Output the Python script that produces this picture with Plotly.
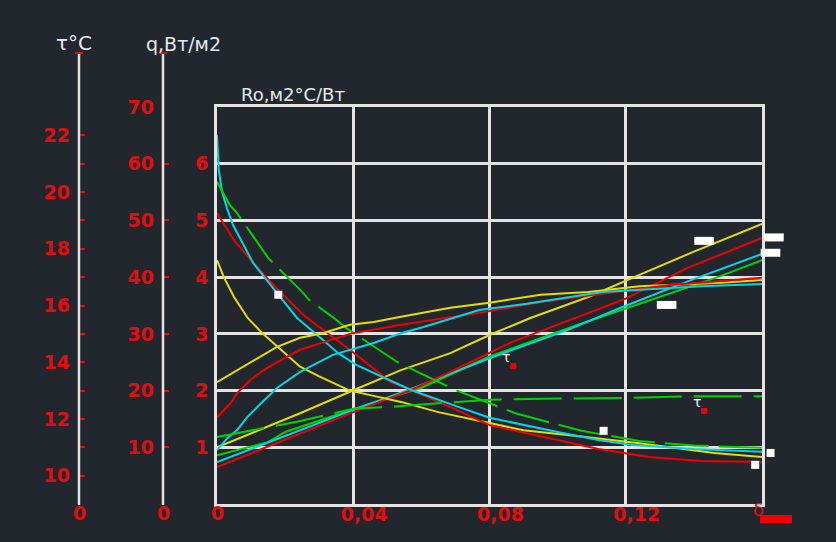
import plotly.graph_objects as go

# ---------------- data ----------------
# heat flux q, W/m2  (falling curves) vs insulation thickness delta, m
q_yellow_x = [0, 0.002, 0.005, 0.009, 0.0135, 0.02, 0.0244, 0.03, 0.039, 0.045, 0.054, 0.065, 0.08, 0.09, 0.107, 0.124, 0.146, 0.16]
q_yellow = [43, 40, 36.5, 32.8, 30, 26.5, 24.2, 22.5, 20, 19.2, 18, 16.2, 14.3, 13, 11.9, 10.7, 9, 8.3]
q_red_x = [0, 0.005, 0.01, 0.017, 0.026, 0.039, 0.051, 0.057, 0.07, 0.08, 0.1, 0.112, 0.127, 0.142, 0.16]
q_red = [51.3, 46.5, 43, 38.3, 33, 27.2, 21.5, 20.1, 16.7, 13.9, 11.3, 9.7, 8.3, 7.6, 7.4]
q_cyan_x = [0, 0.0005, 0.0015, 0.003, 0.0047, 0.0106, 0.018, 0.0235, 0.03, 0.0356, 0.041, 0.05, 0.057, 0.07, 0.08, 0.1, 0.112, 0.122, 0.14, 0.16]
q_cyan = [65, 59, 55, 52, 49.2, 42.5, 36.9, 32.8, 29.5, 26.6, 24.5, 22, 20.1, 17.3, 15.2, 12.7, 11.3, 10.4, 9.7, 9.2]
q_green_x = [0, 0.0038, 0.0059, 0.0132, 0.015, 0.025, 0.027, 0.035, 0.038, 0.053, 0.07, 0.0876, 0.107, 0.124, 0.14, 0.16]
q_green = [56.8, 52.7, 51.3, 44.8, 43.4, 37.4, 36, 32.5, 31, 25, 20.1, 16, 12.9, 11.1, 10.3, 9.9]

# inner surface temperature tau, deg C (rising saturating curves)
t_yellow_x = [0, 0.0077, 0.0176, 0.0244, 0.031, 0.039, 0.046, 0.054, 0.0685, 0.08, 0.095, 0.109, 0.124, 0.148, 0.16]
t_yellow = [13.3, 13.84, 14.54, 14.86, 15.02, 15.32, 15.42, 15.6, 15.92, 16.1, 16.38, 16.48, 16.68, 16.8, 16.9]
t_red_x = [0, 0.004, 0.006, 0.010, 0.0147, 0.0244, 0.039, 0.054, 0.077, 0.095, 0.1106, 0.133, 0.16]
t_red = [12.06, 12.56, 12.92, 13.4, 13.8, 14.44, 15.0, 15.32, 15.74, 16.12, 16.38, 16.72, 16.98]
t_cyan_x = [0, 0.003, 0.006, 0.009, 0.013, 0.0177, 0.0244, 0.034, 0.046, 0.054, 0.0606, 0.077, 0.091, 0.101, 0.113, 0.142, 0.16]
t_cyan = [10.9, 11.32, 11.62, 12.08, 12.56, 13.1, 13.66, 14.26, 14.68, 15.02, 15.24, 15.84, 16.06, 16.26, 16.48, 16.68, 16.76]
t_green_x = [0, 0.014, 0.0235, 0.032, 0.04, 0.05, 0.06, 0.07, 0.08, 0.1, 0.12, 0.14, 0.16]
t_green = [11.36, 11.68, 11.9, 12.14, 12.36, 12.42, 12.5, 12.6, 12.68, 12.72, 12.74, 12.8, 12.8]

# thermal resistance Ro, m2*C/W (rising straight-ish lines)
r_yellow_x = [0, 0.0244, 0.039, 0.054, 0.0685, 0.08, 0.092, 0.109, 0.124, 0.14, 0.16]
r_yellow = [1.0, 1.6, 1.98, 2.36, 2.66, 2.98, 3.28, 3.65, 4.04, 4.45, 4.94]
r_red_x = [0, 0.02, 0.04, 0.057, 0.0685, 0.086, 0.1, 0.12, 0.138, 0.16]
r_red = [0.65, 1.13, 1.62, 2.01, 2.33, 2.84, 3.16, 3.62, 4.16, 4.69]
r_cyan_x = [0, 0.04, 0.057, 0.08, 0.103, 0.1185, 0.138, 0.16]
r_cyan = [0.74, 1.66, 2.03, 2.57, 3.07, 3.46, 3.92, 4.41]
r_green_x = [0, 0.015, 0.02, 0.044, 0.06, 0.08, 0.106, 0.1185, 0.147, 0.16]
r_green = [0.86, 1.09, 1.27, 1.75, 2.05, 2.6, 3.16, 3.42, 4.0, 4.30]

# measured points (white: small squares and wide blocks, on the Ro scale; red: on the tau scale)
pts_sq_x = [0.018, 0.1135, 0.158, 0.1625]
pts_sq = [3.69, 1.29, 0.69, 0.90]
pts_blk_x = [0.132, 0.143, 0.1635, 0.1625]
pts_blk = [3.51, 4.64, 4.70, 4.43]
pts_t_x = [0.087, 0.143]
pts_t = [13.87, 12.28]

# axis ticks
x_ticks = [0.04, 0.08, 0.12]
x_tick_text = ["0,04", "0,08", "0,12"]
r_ticks = [1, 2, 3, 4, 5, 6]
q_ticks = [10, 20, 30, 40, 50, 60, 70]
t_ticks = [10, 12, 14, 16, 18, 20, 22]
t_minor = [11, 13, 15, 17, 19, 21, 23]

# ---------------- style ----------------
W, H = 836, 542
BG = "#22272e"
GRID = "#e4e4e4"
LBL = "#e00f0f"
TXT = "#e4eaf2"
YEL, RED, CYN, GRN = "#e2df00", "#f00000", "#00d6e6", "#00d200"
FONT = "DejaVu Sans"


def px(x):
    return x / W


def py(y):
    return 1 - y / H


X0, X1, XEXT = 217, 762, 800          # plot frame left/right, extension for outside points
Y0, Y1 = 504, 107                      # plot frame bottom/top

fig = go.Figure()


def line(x, y, color, axis, dash="solid"):
    fig.add_trace(go.Scatter(x=x, y=y, yaxis=axis, mode="lines",
                             line=dict(color=color, width=2, dash=dash),
                             hoverinfo="skip"))


for xs, ys, c in [(q_yellow_x, q_yellow, YEL), (q_red_x, q_red, RED), (q_cyan_x, q_cyan, CYN)]:
    line(xs, ys, c, "y2")
line(q_green_x, q_green, GRN, "y2", dash="44px,10px")
for xs, ys, c in [(t_yellow_x, t_yellow, YEL), (t_red_x, t_red, RED), (t_cyan_x, t_cyan, CYN)]:
    line(xs, ys, c, "y3")
line(t_green_x, t_green, GRN, "y3", dash="48px,12px")
for xs, ys, c in [(r_green_x, r_green, GRN), (r_cyan_x, r_cyan, CYN), (r_red_x, r_red, RED), (r_yellow_x, r_yellow, YEL)]:
    line(xs, ys, c, "y")

fig.add_trace(go.Scatter(x=pts_sq_x, y=pts_sq, xaxis="x2", yaxis="y4", mode="markers",
                         marker=dict(symbol="square", size=8, color="white", line=dict(width=0)),
                         hoverinfo="skip"))
fig.add_trace(go.Scatter(x=pts_blk_x, y=pts_blk, xaxis="x2", yaxis="y4", mode="markers",
                         marker=dict(symbol="line-ew", size=14, color="white",
                                     line=dict(width=8, color="white")),
                         hoverinfo="skip"))
fig.add_trace(go.Scatter(x=pts_t_x, y=pts_t, yaxis="y3", mode="markers",
                         marker=dict(symbol="square", size=6, color=RED, line=dict(width=0)),
                         hoverinfo="skip"))

tickfont = dict(family=FONT, size=19, color=LBL, weight="bold")

fig.update_layout(
    width=W, height=H, margin=dict(l=0, r=0, t=0, b=0),
    paper_bgcolor=BG, plot_bgcolor="rgba(0,0,0,0)", showlegend=False,
    xaxis=dict(domain=[px(X0), px(X1)], range=[0, 0.16], tickvals=x_ticks, ticktext=x_tick_text,
               showgrid=True, gridcolor=GRID, gridwidth=2.5, zeroline=False,
               showline=True, linecolor=GRID, linewidth=2.5, mirror=True, ticks="",
               tickfont=tickfont, ticklabelshift=11, ticklabelstandoff=-9, automargin=False,
               fixedrange=True),
    yaxis=dict(domain=[py(Y0), py(Y1)], range=[0, 7], tickvals=r_ticks,
               showgrid=True, gridcolor=GRID, gridwidth=2.5, zeroline=False,
               showline=True, linecolor=GRID, linewidth=2.5, mirror=True, ticks="",
               tickfont=tickfont, ticklabelstandoff=2, automargin=False, fixedrange=True),
    yaxis2=dict(overlaying="y", anchor="free", position=px(163), side="left", range=[0, 70],
                tickvals=q_ticks, showgrid=False, zeroline=False, showline=False,
                ticks="inside", ticklen=5, tickwidth=2, tickcolor=LBL,
                tickfont=tickfont, ticklabelstandoff=9, automargin=False, fixedrange=True),
    yaxis3=dict(overlaying="y", anchor="free", position=px(79), side="left", range=[9, 23],
                tickvals=t_ticks, showgrid=False, zeroline=False, showline=False,
                ticks="inside", ticklen=5, tickwidth=2, tickcolor=LBL,
                minor=dict(tickvals=t_minor, ticks="inside", ticklen=5, tickwidth=2, tickcolor=LBL),
                tickfont=tickfont, ticklabelstandoff=9, automargin=False, fixedrange=True),
    # invisible twin of the main scale, a little wider, for points drawn just past the frame
    xaxis2=dict(domain=[px(X0), px(XEXT)], range=[0, 0.16 * (XEXT - X0) / (X1 - X0)],
                anchor="y4", visible=False, fixedrange=True),
    yaxis4=dict(domain=[py(Y0), py(Y1)], range=[0, 7], anchor="x2", visible=False,
                fixedrange=True),
)

shapes = []
for xpx in (79, 163):
    shapes.append(dict(type="line", xref="paper", yref="paper", x0=px(xpx), x1=px(xpx),
                       y0=py(505), y1=py(52), line=dict(color=GRID, width=2.5)))
    shapes.append(dict(type="line", xref="paper", yref="paper", x0=px(xpx - 4), x1=px(xpx + 4),
                       y0=py(53), y1=py(53), line=dict(color=LBL, width=2)))
shapes.append(dict(type="rect", xref="paper", yref="paper", x0=px(760), x1=px(792),
                   y0=py(523), y1=py(515), fillcolor=RED, line=dict(width=0)))
fig.update_layout(shapes=shapes)

ann = []


def text(t, x, y, size=17, color=TXT, xanchor="center", bold=False, xref="paper", yref="paper"):
    ann.append(dict(text=t, x=x, y=y, xref=xref, yref=yref, showarrow=False, xanchor=xanchor,
                    yanchor="middle",
                    font=dict(family=FONT, size=size, color=color, weight="bold" if bold else "normal")))


# zero labels under the three scales
text("0", px(79), py(513), size=19, color=LBL, bold=True)
text("0", px(163), py(513), size=19, color=LBL, bold=True)
text("0", px(217), py(513), size=19, color=LBL, bold=True)
# axis titles
text("τ°C", px(54), py(43), size=20, xanchor="left")
text("q,Вт/м2", px(144), py(44), size=19, xanchor="left")
text("Ro,м2°С/Вт", px(239), py(95), size=18, xanchor="left")
text("δ", px(758), py(509), size=18, color=LBL)
# tau marks next to the measured temperatures
text("τ", 0.0847, 2.6, size=14, color="white", xref="x", yref="y")
text("τ", 0.141, 1.8, size=14, color="white", xref="x", yref="y")
fig.update_layout(annotations=ann)

fig.write_html(
    "out.html",
    config={"displayModeBar": False},
    post_script="document.body.style.margin='0';document.body.style.background='" + BG + "';",
)
